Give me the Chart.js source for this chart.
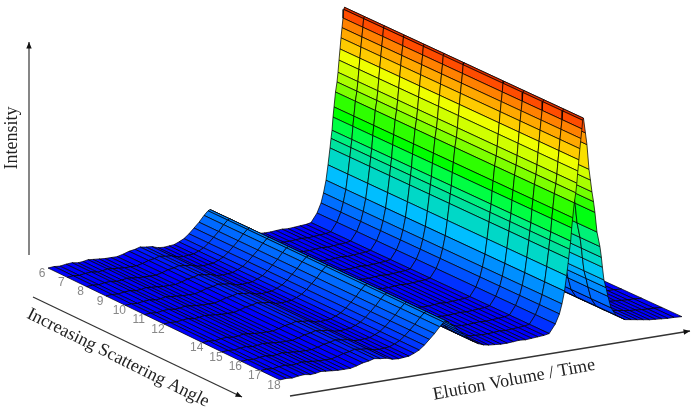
<!DOCTYPE html>
<html>
<head>
<meta charset="utf-8">
<title>Elution surface</title>
<script src="https://cdn.jsdelivr.net/npm/chart.js@4/dist/chart.umd.min.js"></script>
<style>
html, body { margin: 0; padding: 0; background: #fff; }
canvas { display: block; filter: blur(0.5px); }
</style>
</head>
<body>
<canvas id="surface" width="691" height="409"></canvas>
<script>
// scattering angle slices (13 is missing in the measurement)
const angles = [6, 7, 8, 9, 10, 11, 12, 14, 15, 16, 17, 18];
const angleLabels = ['6', '7', '8', '9', '10', '11', '12', '14', '15', '16', '17', '18'];

// elution positions of the grid rows and the intensity read at each one
const elution = [0, 6, 12, 18, 24, 30, 35, 40, 45, 51, 57, 63, 69, 75, 81, 87, 92, 98, 104, 110, 116, 121, 126, 131, 136, 141, 146, 151, 156, 160, 162,
    165, 169, 174, 179, 184, 189, 194, 199, 204, 210, 216, 222, 228, 234, 240, 246, 252, 258, 263, 269, 273, 275.5, 278, 280, 282, 283, 284, 285, 286, 287.5, 289, 290, 291, 292, 293, 294, 295, 295.7, 296.5,
    298.4, 299.9, 301.9, 303.3, 304.8, 306.3, 307.7, 309.7, 312.6, 314, 315, 316.5, 318.5, 320.4, 323.4, 328.2, 337, 343, 349, 355, 361, 367, 373, 379, 385, 392.7];
const intensity = [0, 0.5, 0, 1, 1.5, 0.5, 1, 2, 1.5, 1, 0.5, 0.5, 0.5, 2, 4, 5, 6.5, 5.5, 5, 3, 2.5, 3, 3.5, 5.5, 8, 12, 17, 22, 28, 32, 33,
    31, 27, 22, 17, 12, 8, 5, 3, 2, 1.5, 1, 1, 1.5, 2, 1.5, 2, 2.5, 3, 4, 12.6, 22, 31.6, 44, 59, 75.6, 85, 93, 106, 116, 130.7, 140.5, 150, 162, 173, 184, 194, 203.5, 212, 214,
    199, 187, 162, 151, 139, 129, 118, 98, 83, 72, 62, 49, 41, 32, 20, 12, 6, 5, 4, 3, 2, 1.5, 1, 0.5, 0.5, 0];

// colour bands of the surface against intensity
const bandLevels = [0, 3, 8, 17, 27, 38, 52, 67, 80, 89, 100, 111, 124, 136, 145, 156, 168, 179, 189, 199, 208, 214];
const bandColors = ['#0000ff', '#0000ff', '#0030ff', '#0050ff', '#0070ff', '#0090ff', '#00c0ff', '#00d8c8', '#00e0a0', '#00f080', '#00ff40', '#00ff00', '#30ff00', '#80ff00', '#a8ff00', '#d0ff00', '#f0ff00', '#ffc800', '#ffa800', '#ff8000', '#ff4a00', '#d82800'];

// view of the box on the page
const view = {
    x0: 48, y0: 268,      // corner at first angle, elution 0
    ax: 19.33, ay: 9.33,  // one degree of angle on the page
    ex: 1, ey: -0.1575,   // one unit of elution on the page
    near: 0.00197         // things get a bit bigger towards the last angle
};

function project(angle, e, h) {
    let d = angle - angles[0];
    let s = 1 + view.near * d;
    return {
        x: view.x0 + d * view.ax + e * s * view.ex,
        y: view.y0 + d * view.ay + e * s * view.ey - h
    };
}

function hex(c) {
    return [parseInt(c.substr(1, 2), 16), parseInt(c.substr(3, 2), 16), parseInt(c.substr(5, 2), 16)];
}

function band_color(h) {
    let i = 0;
    while (i < bandLevels.length - 2 && h > bandLevels[i + 1]) i++;
    let t = Math.min(1, (h - bandLevels[i]) / (bandLevels[i + 1] - bandLevels[i]));
    let a = hex(bandColors[i]), b = hex(bandColors[i + 1]);
    return 'rgb(' + a.map((v, k) => Math.round(v + (b[k] - v) * t)).join(',') + ')';
}

// painter order: far rows and low angles first
let cells = [];
for (let r = elution.length - 2; r >= 0; r--) {
    for (let c = 0; c < angles.length - 1; c++) {
        let a0 = angles[c], a1 = angles[c + 1];
        let e0 = elution[r], e1 = elution[r + 1];
        let h0 = intensity[r], h1 = intensity[r + 1];
        cells.push({
            type: 'scatter',
            showLine: true,
            fill: 'shape',
            tension: 0,
            pointRadius: 0,
            borderWidth: 1,
            borderColor: 'rgba(0,0,0,0.72)',
            backgroundColor: band_color((h0 + h1) / 2),
            data: [
                project(a0, e0, h0),
                project(a1, e0, h0),
                project(a1, e1, h1),
                project(a0, e1, h1),
                project(a0, e0, h0)
            ]
        });
    }
}
// chart.js paints the last dataset first
cells.reverse();

function arrow(chart, x0, y0, x1, y1, color) {
    let ctx = chart.ctx;
    let px0 = chart.scales.x.getPixelForValue(x0), py0 = chart.scales.y.getPixelForValue(y0);
    let px1 = chart.scales.x.getPixelForValue(x1), py1 = chart.scales.y.getPixelForValue(y1);
    let t = Math.atan2(py1 - py0, px1 - px0);
    ctx.strokeStyle = color;
    ctx.fillStyle = '#111';
    ctx.lineWidth = 1.3;
    ctx.beginPath();
    ctx.moveTo(px0, py0);
    ctx.lineTo(px1, py1);
    ctx.stroke();
    ctx.beginPath();
    ctx.moveTo(px1, py1);
    ctx.lineTo(px1 - 7 * Math.cos(t - 0.4), py1 - 7 * Math.sin(t - 0.4));
    ctx.lineTo(px1 - 7 * Math.cos(t + 0.4), py1 - 7 * Math.sin(t + 0.4));
    ctx.closePath();
    ctx.fill();
}

function turned_text(chart, text, x, y, deg) {
    let ctx = chart.ctx;
    ctx.save();
    ctx.translate(chart.scales.x.getPixelForValue(x), chart.scales.y.getPixelForValue(y));
    ctx.rotate(deg * Math.PI / 180);
    ctx.fillText(text, 0, 0);
    ctx.restore();
}

const annotations = {
    id: 'annotations',
    afterDraw(chart) {
        let ctx = chart.ctx;
        ctx.save();
        arrow(chart, 29, 255, 29, 42, '#444');
        arrow(chart, 33, 297, 242, 397, '#333');
        arrow(chart, 290, 396, 690, 331, '#333');

        ctx.textAlign = 'center';
        ctx.textBaseline = 'middle';
        ctx.fillStyle = '#888';
        ctx.font = '12px "Liberation Sans"';
        angles.forEach(function(a, i) {
            let p = project(a, 0, 0);
            ctx.fillText(angleLabels[i], chart.scales.x.getPixelForValue(p.x - 6), chart.scales.y.getPixelForValue(p.y + 5.5));
        });

        ctx.fillStyle = '#222';
        ctx.font = '18px "Liberation Serif"';
        turned_text(chart, 'Intensity', 12, 138, -90);
        turned_text(chart, 'Increasing Scattering Angle', 118, 358, 26.5);
        turned_text(chart, 'Elution Volume / Time', 514, 380, -10.5);
        ctx.restore();
    }
};

const chart = new Chart(document.getElementById('surface'), {
    type: 'scatter',
    data: { datasets: cells },
    plugins: [annotations],
    options: {
        responsive: false,
        animation: false,
        events: [],
        layout: { padding: 0 },
        plugins: {
            legend: { display: false },
            tooltip: { enabled: false },
            title: { display: false }
        },
        scales: {
            x: { type: 'linear', display: false, min: 0, max: 691 },
            y: { type: 'linear', display: false, min: 0, max: 409, reverse: true }
        }
    }
});
</script>
</body>
</html>
